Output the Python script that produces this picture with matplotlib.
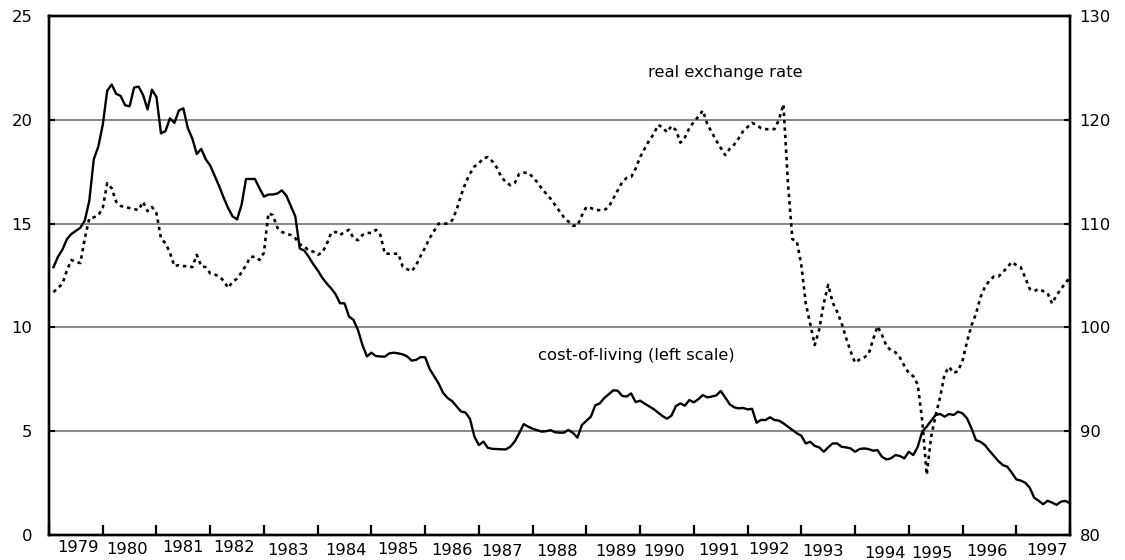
import numpy as np
import matplotlib
matplotlib.use("Agg")
import matplotlib.pyplot as plt

# ---------------- data (monthly, Jan 1979 - Dec 1997) ----------------
start_year = 1979
cost_of_living = [
    12.9, 13.4, 13.75, 14.25, 14.5, 14.65, 14.8, 15.15, 16.1, 18.1, 18.7, 19.75,
    21.4, 21.7, 21.25, 21.15, 20.7, 20.65, 21.55, 21.6, 21.2, 20.5, 21.45, 21.1,
    19.35, 19.45, 20.07, 19.85, 20.45, 20.55, 19.6, 19.1, 18.35, 18.6, 18.1, 17.8,
    17.3, 16.8, 16.25, 15.75, 15.35, 15.2, 15.9, 17.15, 17.15, 17.15, 16.7, 16.3,
    16.4, 16.4, 16.45, 16.6, 16.35, 15.85, 15.35, 13.8, 13.7, 13.4, 13.05, 12.75,
    12.4, 12.12, 11.88, 11.6, 11.16, 11.16, 10.52, 10.36, 9.87, 9.15, 8.6, 8.78,
    8.62, 8.6, 8.59, 8.75, 8.78, 8.75, 8.7, 8.6, 8.4, 8.44, 8.57, 8.56,
    8.0, 7.65, 7.3, 6.85, 6.6, 6.45, 6.2, 5.95, 5.9, 5.6, 4.74, 4.33,
    4.5, 4.2, 4.15, 4.14, 4.13, 4.12, 4.25, 4.5, 4.9, 5.34, 5.22, 5.12,
    5.05, 4.98, 5.0, 5.05, 4.95, 4.93, 4.93, 5.06, 4.92, 4.69, 5.3, 5.5,
    5.7, 6.25, 6.34, 6.6, 6.78, 6.97, 6.95, 6.7, 6.67, 6.82, 6.4, 6.47,
    6.33, 6.2, 6.07, 5.9, 5.73, 5.6, 5.75, 6.21, 6.34, 6.23, 6.5, 6.39,
    6.54, 6.74, 6.63, 6.67, 6.72, 6.94, 6.63, 6.3, 6.15, 6.1, 6.12, 6.05,
    6.08, 5.41, 5.54, 5.54, 5.67, 5.54, 5.51, 5.38, 5.22, 5.06, 4.9, 4.78,
    4.41, 4.49, 4.29, 4.22, 4.01, 4.22, 4.41, 4.41, 4.25, 4.22, 4.17, 4.01,
    4.14, 4.17, 4.14, 4.06, 4.09, 3.77, 3.64, 3.69, 3.85, 3.81, 3.69, 4.01,
    3.85, 4.25, 4.98, 5.22, 5.51, 5.78, 5.83, 5.7, 5.83, 5.78, 5.94, 5.86,
    5.62, 5.14, 4.57, 4.49, 4.33, 4.06, 3.81, 3.56, 3.37, 3.29, 3.0, 2.68,
    2.62, 2.52, 2.28, 1.8, 1.65, 1.48, 1.65, 1.56, 1.45, 1.61, 1.64, 1.53,
]
real_exchange_rate = [
    103.4, 103.8, 104.2, 105.5, 106.5, 106.3, 106.2, 108.6, 110.5, 110.6, 110.8, 111.5,
    113.9, 113.4, 112.1, 111.7, 111.6, 111.5, 111.4, 111.3, 112.1, 111.2, 111.6, 111.0,
    108.6, 108.1, 107.2, 105.9, 106.0, 105.9, 105.9, 105.8, 107.0, 105.9, 105.8, 105.2,
    105.1, 104.9, 104.5, 103.8, 104.4, 104.7, 105.3, 106.0, 106.8, 106.8, 106.5, 107.2,
    111.0, 110.8, 109.6, 109.2, 109.0, 108.9, 108.6, 108.0, 107.8, 107.4, 107.3, 107.0,
    107.2, 108.0, 109.1, 109.2, 108.9, 109.2, 109.4, 108.6, 108.4, 108.9, 109.1, 109.1,
    109.4, 108.9, 107.1, 107.1, 107.1, 107.1, 105.85, 105.6, 105.4, 106.0, 106.9, 107.7,
    108.6, 109.3, 110.0, 110.0, 110.0, 110.3, 111.3, 112.7, 113.9, 114.8, 115.5, 115.8,
    116.3, 116.4, 116.0, 115.4, 114.5, 114.0, 113.7, 113.9, 114.8, 114.9, 114.9, 114.5,
    114.0, 113.4, 112.9, 112.4, 111.8, 111.2, 110.6, 110.2, 109.8, 109.8, 110.8, 111.6,
    111.5, 111.3, 111.3, 111.3, 111.6, 112.4, 113.2, 114.0, 114.4, 114.5, 115.3, 116.4,
    117.2, 118.0, 118.6, 119.5, 119.3, 118.8, 119.4, 119.0, 117.8, 118.3, 119.2, 119.8,
    120.3, 120.9, 119.6, 118.8, 118.0, 117.3, 116.6, 117.2, 117.6, 118.2, 118.9, 119.3,
    119.7, 119.5, 119.2, 119.1, 119.1, 119.1, 120.0, 121.5, 114.0, 108.5, 108.3, 106.0,
    102.3, 100.3, 98.3, 99.8, 102.3, 104.1, 102.4, 101.5, 100.4, 99.0, 97.7, 96.6,
    96.9, 97.1, 97.4, 98.8, 100.1, 99.3, 98.2, 97.8, 97.6, 97.1, 96.3, 95.6,
    95.3, 94.5, 91.0, 85.8, 89.5, 91.5, 93.3, 95.5, 96.2, 95.6, 95.8, 96.8,
    98.6, 100.2, 101.3, 102.9, 103.9, 104.5, 104.9, 104.9, 105.3, 105.8, 106.3, 106.0,
    105.8, 104.8, 103.7, 103.5, 103.7, 103.5, 103.3, 102.3, 103.1, 103.7, 104.3, 104.8,
]
year_labels = [str(y) for y in range(1979, 1998)]
left_ticks = [0, 5, 10, 15, 20, 25]
right_ticks = [80, 90, 100, 110, 120, 130]
label_rer = "real exchange rate"
label_col = "cost-of-living (left scale)"

# ---------------- style ----------------
plt.rcParams['font.family'] = ['DejaVu Sans']
FS = 11.8
GRID = '#8c8c8c'
# per-label pixel nudges of the staggered year labels (dx right, dy down)
label_nudges = [(2, 0), (-2.5, 1.7), (-0.5, 0), (-3.3, 0), (-3, 2.7), (1.7, 2.7),
                (0, 1.7), (-0.5, 2.4), (-3.5, 3.4), (-3, 4), (3.2, 3.4), (-3, 4),
                (-2, 2.7), (-5, 1), (-5.5, 4), (3.5, 5), (-4, 5), (-2, 4), (4, 2.4)]

fig = plt.figure(figsize=(11.25, 5.6), dpi=100)
ax = fig.add_axes([49 / 1125, 25 / 560, 1021 / 1125, 519 / 560])

n = len(cost_of_living)
t = start_year + (np.arange(n) + 1) / 12.0

ax.set_xlim(start_year, start_year + len(year_labels))
ax.set_ylim(left_ticks[0], left_ticks[-1])

for v in left_ticks[1:-1]:
    ax.axhline(v, color=GRID, lw=1.5, zorder=1)

ax.plot(t, cost_of_living, color='black', lw=1.7, zorder=3)

ax2 = ax.twinx()
ax2.set_ylim(right_ticks[0], right_ticks[-1])
ax2.plot(t, real_exchange_rate, color='black', lw=1.9,
         linestyle=(0, (1.3, 1.5)), zorder=3)

# ticks
ax.set_xticks(np.arange(start_year, start_year + len(year_labels) + 1))
ax.set_xticklabels([])
ax.tick_params(axis='x', which='major', direction='in', length=7, width=1.6, color='black')
ax.set_yticks(left_ticks)
ax.set_yticklabels([str(v) for v in left_ticks])
ax.tick_params(axis='y', direction='in', length=4, width=1.5, color='black',
               pad=12, labelsize=FS)
ax2.set_yticks(right_ticks)
ax2.set_yticklabels([str(v) for v in right_ticks])
ax2.tick_params(axis='y', direction='in', length=4, width=1.5, color='black',
                pad=7, labelsize=FS)

for i, (lab, (dx, dy)) in enumerate(zip(year_labels, label_nudges)):
    ax.annotate(lab, xy=(start_year + i + 0.5, 0), xycoords=('data', 'axes fraction'),
                xytext=(dx, -13 - dy), textcoords='offset pixels',
                ha='center', va='center', fontsize=FS)

for a in (ax, ax2):
    for s in a.spines.values():
        s.set_linewidth(1.7)
        s.set_color('black')

ax.text(1990.14, 22.3, label_rer, fontsize=FS, ha='left', va='center')
ax.text(1988.1, 8.67, label_col, fontsize=FS, ha='left', va='center')

fig.savefig('out.png', dpi=100)
